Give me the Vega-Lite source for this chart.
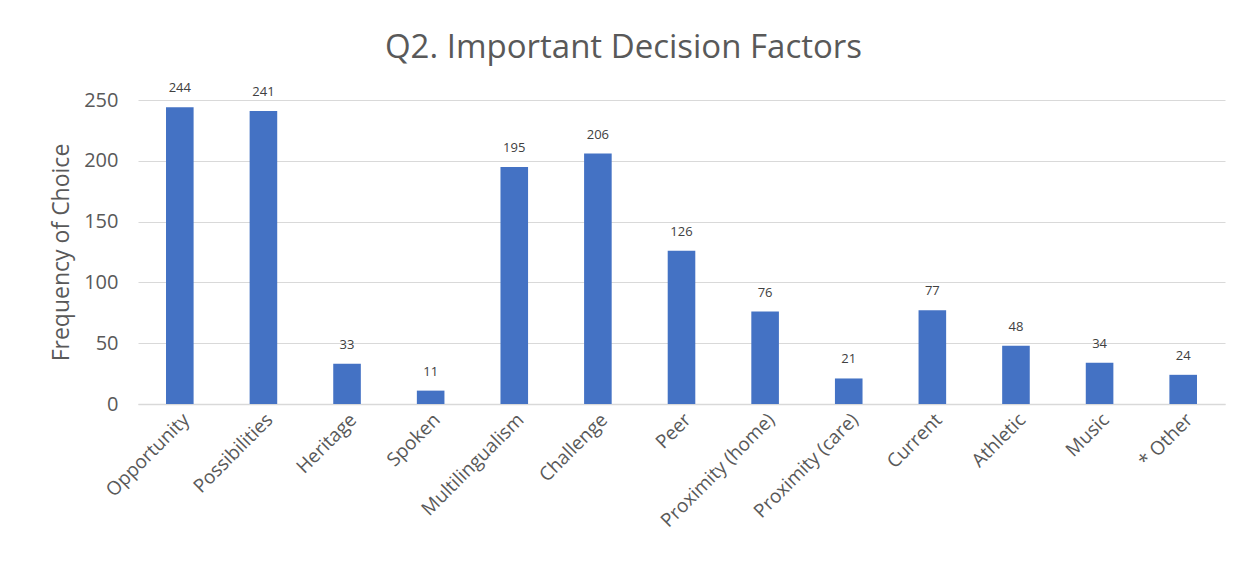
{
  "$schema": "https://vega.github.io/schema/vega-lite/v6.json",
  "autosize": "none",
  "width": 1087,
  "height": 304,
  "padding": {"left": 138, "top": 100, "right": 27, "bottom": 171},
  "background": "white",
  "title": {
    "text": "Q2. Important Decision Factors",
    "fontSize": 33,
    "font": "Open Sans",
    "fontWeight": "normal",
    "color": "#595959",
    "anchor": "middle",
    "dx": -58,
    "offset": 17
  },
  "data": {
    "values": [
      {"factor": "Opportunity", "count": 244},
      {"factor": "Possibilities", "count": 241},
      {"factor": "Heritage", "count": 33},
      {"factor": "Spoken", "count": 11},
      {"factor": "Multilingualism", "count": 195},
      {"factor": "Challenge", "count": 206},
      {"factor": "Peer", "count": 126},
      {"factor": "Proximity (home)", "count": 76},
      {"factor": "Proximity (care)", "count": 21},
      {"factor": "Current", "count": 77},
      {"factor": "Athletic", "count": 48},
      {"factor": "Music", "count": 34},
      {"factor": "* Other", "count": 24}
    ]
  },
  "encoding": {
    "x": {
      "field": "factor",
      "type": "nominal",
      "sort": null,
      "scale": {"paddingInner": 0.67, "paddingOuter": 0.335},
      "axis": {
        "title": null,
        "labelAngle": -45,
        "labelAlign": "right",
        "labelBaseline": "top",
        "labelFontSize": 19,
        "labelFont": "Open Sans",
        "labelColor": "#595959",
        "labelPadding": 6,
        "ticks": false,
        "domainColor": "#d9d9d9",
        "domainWidth": 1.5
      }
    },
    "y": {
      "field": "count",
      "type": "quantitative",
      "scale": {"domain": [0, 250]},
      "axis": {
        "title": "Frequency of Choice",
        "titleFontSize": 23,
        "titleFont": "Open Sans",
        "titleFontWeight": "normal",
        "titleColor": "#595959",
        "titlePadding": 10,
        "values": [0, 50, 100, 150, 200, 250],
        "labelFontSize": 20,
        "labelFont": "Open Sans",
        "labelColor": "#595959",
        "labelPadding": 20,
        "ticks": false,
        "domain": false,
        "gridColor": "#d9d9d9",
        "gridWidth": 1.2
      }
    }
  },
  "layer": [
    {"mark": {"type": "bar", "color": "#4472C4"}},
    {
      "mark": {"type": "text", "baseline": "bottom", "dy": -12, "fontSize": 13, "font": "Open Sans", "color": "#404040"},
      "encoding": {"text": {"field": "count", "type": "quantitative"}}
    }
  ],
  "config": {"view": {"stroke": null}}
}
